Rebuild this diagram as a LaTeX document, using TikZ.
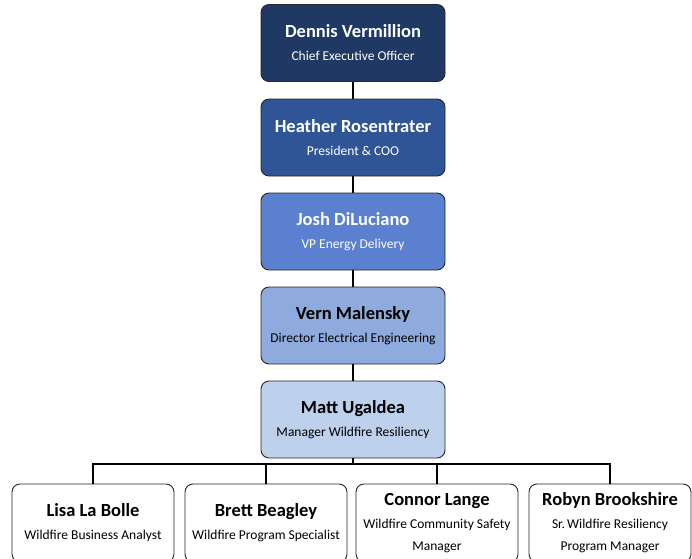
\documentclass[tikz,border=0pt]{standalone}
\usepackage{fontspec}
\setmainfont{Carlito}
\usetikzlibrary{positioning}

\definecolor{navyA}{HTML}{203864}
\definecolor{navyB}{HTML}{2F5597}
\definecolor{navyC}{HTML}{5B80CF}
\definecolor{navyD}{HTML}{8FAADC}
\definecolor{navyE}{HTML}{BDD0EC}

\tikzset{
  person/.style={draw=black!85, line width=0.9pt, rounded corners=8pt, align=center,
    minimum width=184pt, minimum height=77pt, font=\fontsize{13.5}{22}\selectfont},
  staff/.style={person, fill=white, minimum width=162pt, minimum height=78pt},
  link/.style={line width=2.2pt, black}
}
\newcommand{\who}[2]{{\fontsize{18.5}{22}\selectfont\bfseries #1}\\[1pt]#2}

\begin{document}
\begin{tikzpicture}[x=1pt,y=-1pt]
    \useasboundingbox (0,0) rectangle (692,558);
    \node[person, fill=navyA, text=white] (ceo) at (353,43) {\who{Dennis Vermillion}{Chief Executive Officer}};
    \node[person, fill=navyB, text=white] (coo) at (353,137.5) {\who{Heather Rosentrater}{President \& COO}};
    \node[person, fill=navyC, text=white] (vp) at (353,231.5) {\who{Josh DiLuciano}{VP Energy Delivery}};
    \node[person, fill=navyD] (dir) at (353,325.5) {\who{Vern Malensky}{Director Electrical Engineering}};
    \node[person, fill=navyE] (mgr) at (353,419.5) {\who{Matt Ugaldea}{Manager Wildfire Resiliency}};
    \coordinate (bus) at (353,464);
    \node[staff] (lisa) at (93,523) {\who{Lisa La Bolle}{Wildfire Business Analyst}};
    \node[staff] (brett) at (266,523) {\who{Brett Beagley}{Wildfire Program Specialist}};
    \node[staff] (connor) at (437,523) {\who{Connor Lange}{Wildfire Community Safety\\Manager}};
    \node[staff] (robyn) at (610,523) {\who{Robyn Brookshire}{Sr.\,Wildfire Resiliency\\Program Manager}};
    \draw[link] (ceo) -- (coo);
    \draw[link] (coo) -- (vp);
    \draw[link] (vp) -- (dir);
    \draw[link] (dir) -- (mgr);
    \draw[link] (mgr) -- (bus);
    \draw[link] (lisa.north) |- (bus) -| (robyn.north);
    \draw[link] (brett.north) -- (brett.north |- bus);
    \draw[link] (connor.north) -- (connor.north |- bus);
  \end{tikzpicture}
\end{document}
